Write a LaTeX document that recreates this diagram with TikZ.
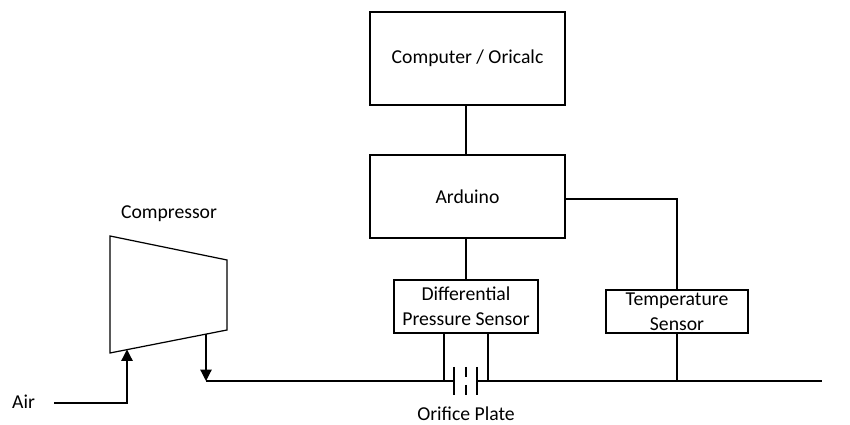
\documentclass[tikz,border=0pt]{standalone}
\usepackage{fontspec}
\setmainfont{Carlito}
\usetikzlibrary{arrows.meta}
\newcommand{\labelfont}{\fontsize{11.2}{14}\selectfont}
\tikzset{
	unit/.style={draw,line width=0.7pt,minimum width=#1,inner sep=0pt,align=center,font=\labelfont},
	lab/.style={inner sep=0pt,font=\labelfont},
	pipe/.style={line width=0.7pt},
	flow/.style={line width=0.7pt,-{Triangle[width=6.5pt,length=6.5pt]}}
}

\begin{document}
\begin{tikzpicture}
	\useasboundingbox (0,0) rectangle (17.0,8.5);

	\node[unit=3.9cm,minimum height=1.86cm] (cmp) at (9.35,7.33) {Computer / Oricalc};
	\node[unit=3.9cm,minimum height=1.66cm] (ard) at (9.35,4.57) {Arduino};
	\node[unit=2.88cm,minimum height=1.06cm] (dps) at (9.32,2.37) {Differential\\Pressure Sensor};
	\node[unit=2.84cm,minimum height=0.86cm] (tmp) at (13.54,2.27) {Temperature\\Sensor};

	\node[lab] (cpl) at (3.38,4.22) {Compressor};
	\node[lab] (air) at (0.47,0.46) {Air};
	\node[lab] (orf) at (9.32,0.22) {Orifice Plate};

	% compressor outline
	\coordinate (c1) at (2.2,3.78);
	\coordinate (c2) at (4.54,3.3);
	\coordinate (c3) at (4.54,1.9);
	\coordinate (c4) at (2.2,1.44);
	\draw[pipe] (c1) -- (c2) -- (c3) -- (c4) -- cycle;

	% pipe
	\coordinate (airs) at (1.08,0.44);
	\coordinate (airk) at (2.54,0.44);
	\coordinate (cin) at (2.54,1.51);
	\coordinate (cout) at (4.12,1.82);
	\coordinate (pk) at (4.12,0.88);
	\coordinate (pl) at (9.08,0.88);
	\coordinate (pr) at (9.54,0.88);
	\coordinate (pe) at (16.44,0.88);
	\draw[flow] (airs) -- (airk) -- (cin);
	\draw[flow] (cout) -- (pk);
	\draw[pipe] (pk) -- (pl);
	\draw[pipe] (pr) -- (pe);

	% orifice plate
	\coordinate (p1a) at (9.08,1.16);
	\coordinate (p1b) at (9.08,0.6);
	\coordinate (p2a) at (9.54,1.16);
	\coordinate (p2b) at (9.54,0.6);
	\coordinate (p3a) at (9.32,1.16);
	\coordinate (p3b) at (9.32,0.6);
	\draw[pipe] (p1a) -- (p1b);
	\draw[pipe] (p2a) -- (p2b);
	\draw[pipe,dash pattern=on 0.2cm off 0.16cm] (p3a) -- (p3b);

	% wiring
	\draw[pipe] (cmp.south -| 9.32,0) -- (ard.north -| 9.32,0);
	\draw[pipe] (ard.south -| dps.north) -- (dps.north);
	\draw[pipe] (ard.east |- 0,4.52) -| (tmp.north);
	\draw[pipe] (tmp.south) -- (tmp.south |- pe);
	\draw[pipe] (dps.south -| 8.88,0) -- (8.88,0.88);
	\draw[pipe] (dps.south -| 9.76,0) -- (9.76,0.88);
\end{tikzpicture}
\end{document}
